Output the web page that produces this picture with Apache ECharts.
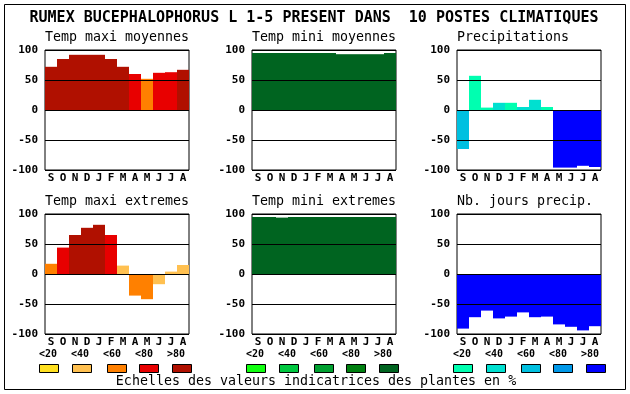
<!DOCTYPE html>
<html><head><meta charset="utf-8">
<script src="https://cdn.jsdelivr.net/npm/echarts@6/dist/echarts.min.js"></script>
<style>html,body{margin:0;padding:0;background:#fff}#c{width:630px;height:394px}</style>
</head><body><div id="c"></div>
<script>
const months = ['S','O','N','D','J','F','M','A','M','J','J','A'];
const classLabels = ['<20','<40','<60','<80','>80'];
const maxiColors = ['#ffe020','#ffc050','#ff8000','#e80000','#b01000'];
const miniColors = ['#10ff10','#00c840','#00a030','#008010','#006420'];
const precColors = ['#00ffb0','#00e0d0','#00c0e0','#0098e8','#0000ff'];

const tmaxMoy    = [72,85,92,92,92,85,72,60,52,62,63,67];
const tmaxMoyCls = [4,4,4,4,4,4,4,3,2,3,3,4];
const tminMoy    = [95,95,95,95,95,95,95,93,93,93,93,95];
const tminMoyCls = [4,4,4,4,4,4,4,4,4,4,4,4];
const precip     = [-65,57,4,12,12,5,17,5,-96,-96,-93,-95];
const precipCls  = [2,0,0,1,0,1,1,0,4,4,4,4];
const tmaxExt    = [17,44,65,77,82,65,14,-36,-42,-17,4,15];
const tmaxExtCls = [2,3,4,4,4,3,1,2,2,1,1,1];
const tminExt    = [95,95,94,95,95,95,95,95,95,95,95,95];
const tminExtCls = [4,4,4,4,4,4,4,4,4,4,4,4];
const nbJours    = [-91,-72,-61,-74,-71,-64,-72,-71,-84,-88,-94,-87];
const nbJoursCls = [4,4,4,4,4,4,4,4,4,4,4,4];

const mainTitle = 'RUMEX BUCEPHALOPHORUS L 1-5 PRESENT DANS  10 POSTES CLIMATIQUES';
const caption = 'Echelles des valeurs indicatrices des plantes en %';

const mono = '"DejaVu Sans Mono", "Liberation Mono", monospace';

const panels = [
  {title:'Temp maxi moyennes', values:tmaxMoy, cls:tmaxMoyCls, pal:maxiColors, left:45, top:50},
  {title:'Temp mini moyennes', values:tminMoy, cls:tminMoyCls, pal:miniColors, left:252, top:50},
  {title:'Precipitations', values:precip, cls:precipCls, pal:precColors, left:457, top:50},
  {title:'Temp maxi extremes', values:tmaxExt, cls:tmaxExtCls, pal:maxiColors, left:45, top:214},
  {title:'Temp mini extremes', values:tminExt, cls:tminExtCls, pal:miniColors, left:252, top:214},
  {title:'Nb. jours precip.', values:nbJours, cls:nbJoursCls, pal:precColors, left:457, top:214}
];

const grids = [], xAxes = [], yAxes = [], series = [], graphics = [];
panels.forEach((p, i) => {
  grids.push({left:p.left, top:p.top, width:144, height:120, show:true,
    backgroundColor:'#fff', borderColor:'#000', borderWidth:1});
  xAxes.push({gridIndex:i, type:'category', data:months,
    axisLine:{show:false, onZero:false}, axisTick:{show:false}, splitLine:{show:false},
    axisLabel:{interval:0, color:'#000', fontFamily:mono, fontWeight:'bold', fontSize:11, margin:3}});
  yAxes.push({gridIndex:i, type:'value', min:-100, max:100, interval:50, z:5,
    axisLine:{show:false}, axisTick:{show:false},
    splitLine:{show:true, lineStyle:{color:'#000', width:1}},
    axisLabel:{color:'#000', fontFamily:mono, fontWeight:'bold', fontSize:11, margin:7}});
  series.push({type:'bar', xAxisIndex:i, yAxisIndex:i, barWidth:'100%', z:2,
    data:p.values.map((v, j) => ({value:v, itemStyle:{color:p.pal[p.cls[j]]}}))});
  graphics.push({type:'text', x:p.left, y:p.top - 12,
    style:{text:p.title, font:'13.3px ' + mono, fill:'#000', textVerticalAlign:'middle'}});
});

// legend scales
const legendPalettes = [maxiColors, miniColors, precColors];
const labelX = [39, 71, 103, 135, 167];
const boxX = [39, 72, 107, 139, 172];
legendPalettes.forEach((pal, g) => {
  const off = g * 207;
  classLabels.forEach((lab, k) => {
    graphics.push({type:'text', x:labelX[k] + off, y:354,
      style:{text:lab, font:'bold 10px ' + mono, fill:'#000', textVerticalAlign:'middle', textAlign:'left'}});
    graphics.push({type:'rect', shape:{x:boxX[k] + off + 0.5, y:364.5, width:19, height:8},
      style:{fill:pal[k], stroke:'#000', lineWidth:1}});
  });
});

graphics.push({type:'text', x:314, y:18,
  style:{text:mainTitle, font:'bold 15px ' + mono, fill:'#000', textAlign:'center', textVerticalAlign:'middle'}});
graphics.push({type:'text', x:316, y:382,
  style:{text:caption, font:'13.3px ' + mono, fill:'#000', textAlign:'center', textVerticalAlign:'middle'}});
graphics.push({type:'rect', shape:{x:4.5, y:4.5, width:621, height:385},
  style:{fill:'none', stroke:'#000', lineWidth:1}});

const chart = echarts.init(document.getElementById('c'), null, {renderer:'canvas'});
chart.setOption({
  animation:false,
  backgroundColor:'#fff',
  grid:grids, xAxis:xAxes, yAxis:yAxes, series:series, graphic:graphics
});
</script>
</body></html>
